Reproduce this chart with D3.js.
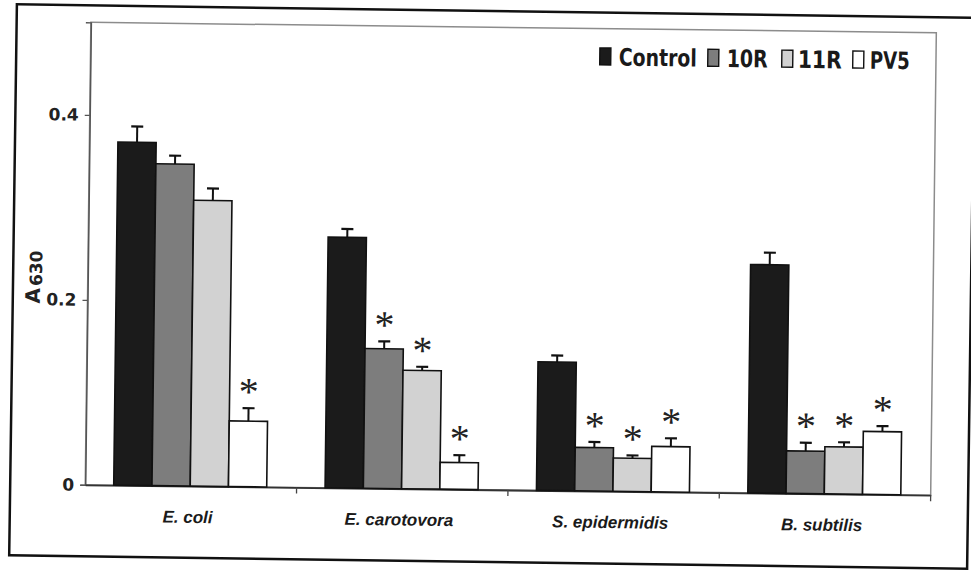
<!DOCTYPE html>
<html><head><meta charset="utf-8">
<script src="https://cdn.jsdelivr.net/npm/d3@7"></script>
<style>
html,body{margin:0;padding:0;background:#fff;}
svg{display:block;}
</style></head>
<body>
<script>
// ---- data ----
const categories = ["E. coli", "E. carotovora", "S. epidermidis", "B. subtilis"];
const seriesNames = ["Control", "10R", "11R", "PV5"];
const controlValues = [0.371, 0.271, 0.139, 0.247];
const r10Values     = [0.348, 0.151, 0.047, 0.046];
const r11Values     = [0.309, 0.128, 0.036, 0.051];
const pv5Values     = [0.071, 0.029, 0.049, 0.068];
const controlErr = [0.017, 0.009, 0.007, 0.013];
const r10Err     = [0.009, 0.008, 0.006, 0.009];
const r11Err     = [0.013, 0.004, 0.003, 0.005];
const pv5Err     = [0.014, 0.008, 0.009, 0.006];
const controlSig = [false, false, false, false];
const r10Sig     = [false, true, true, true];
const r11Sig     = [false, true, true, true];
const pv5Sig     = [true, true, true, true];
const yTicks = [0, 0.2, 0.4];
const yTickLabels = ["0", "0.2", "0.4"];
const yLabelMain = "A", yLabelSub = "630";

const values = [controlValues, r10Values, r11Values, pv5Values];
const errs = [controlErr, r10Err, r11Err, pv5Err];
const sigs = [controlSig, r10Sig, r11Sig, pv5Sig];
const colors = ["#1b1b1b", "#7d7d7d", "#d2d2d2", "#ffffff"];

// ---- layout ----
const W = 971, H = 571;
const L = 87.7, R = 933.2, T = 27.2, B = 489.7;

const svg = d3.select("body").append("svg").attr("width", W).attr("height", H);
svg.append("rect").attr("width", W).attr("height", H).attr("fill", "#fff");

// outer border (scan is slightly rotated)
svg.append("rect").attr("x", 13).attr("y", 11).attr("width", 958).attr("height", 551)
  .attr("transform", "rotate(0.8,492,286.5)")
  .attr("fill", "none").attr("stroke", "#111").attr("stroke-width", 2.5);

const g = svg.append("g").attr("transform", "rotate(0.7,485,285)");

const y = d3.scaleLinear().domain([0, 0.5]).range([B, T]);
const x0 = d3.scaleBand().domain(categories).range([L, R]).padding(0);
const x1 = d3.scaleBand().domain(seriesNames).range([28.5, 181.5]).padding(0);

// plot frame
g.append("rect").attr("x", L).attr("y", T).attr("width", R - L).attr("height", B - T)
  .attr("fill", "none").attr("stroke", "#8c8c8c").attr("stroke-width", 1.5);

// y axis
const yAxis = g.append("g").attr("transform", `translate(${L},0)`)
  .call(d3.axisLeft(y).tickValues(yTicks).tickFormat((d, i) => yTickLabels[i]).tickSize(5).tickPadding(6));
yAxis.select(".domain").attr("stroke", "#555").attr("stroke-width", 1.5);
yAxis.selectAll(".tick line").attr("stroke", "#555").attr("stroke-width", 1.3);
yAxis.selectAll(".tick text").attr("font-family", "DejaVu Sans, sans-serif")
  .attr("font-weight", "bold").attr("font-size", 17).attr("fill", "#222");

// x axis
const xAxis = g.append("g").attr("transform", `translate(0,${B})`)
  .call(d3.axisBottom(x0).tickSize(0).tickPadding(0));
xAxis.select(".domain").attr("stroke", "#333").attr("stroke-width", 1.8);
xAxis.selectAll(".tick text").remove();
xAxis.selectAll(".bnd").data(categories).join("line").attr("class", "bnd")
  .attr("x1", d => x0(d) + x0.bandwidth()).attr("x2", d => x0(d) + x0.bandwidth())
  .attr("y1", 0).attr("y2", 6).attr("stroke", "#444").attr("stroke-width", 1.3);
g.selectAll(".xlab").data(categories).join("text").attr("class", "xlab")
  .attr("x", d => x0(d) + x0.bandwidth() / 2 - 3).attr("y", 526.5)
  .attr("text-anchor", "middle").attr("font-family", "Liberation Sans, Arial, sans-serif")
  .attr("font-weight", "bold").attr("font-style", "italic").attr("font-size", 17)
  .attr("fill", "#1a1a1a").text(d => d);

// bars
const flat = [];
seriesNames.forEach((s, si) => categories.forEach((c, ci) => {
  flat.push({s, si, c, v: values[si][ci], e: errs[si][ci], sig: sigs[si][ci]});
}));
const bx = d => x0(d.c) + x1(d.s);
const bw = x1.bandwidth();

g.selectAll(".err").data(flat).join("line").attr("class", "err")
  .attr("x1", d => bx(d) + bw / 2).attr("x2", d => bx(d) + bw / 2)
  .attr("y1", d => y(d.v)).attr("y2", d => y(d.v + d.e))
  .attr("stroke", "#111").attr("stroke-width", 2);
g.selectAll(".cap").data(flat).join("line").attr("class", "cap")
  .attr("x1", d => bx(d) + bw / 2 - 6).attr("x2", d => bx(d) + bw / 2 + 6)
  .attr("y1", d => y(d.v + d.e)).attr("y2", d => y(d.v + d.e))
  .attr("stroke", "#111").attr("stroke-width", 2.2);

g.selectAll(".bar").data(flat).join("rect").attr("class", "bar")
  .attr("x", d => bx(d)).attr("width", bw)
  .attr("y", d => y(d.v)).attr("height", d => y(0) - y(d.v))
  .attr("fill", d => colors[d.si]).attr("stroke", "#111").attr("stroke-width", 1.6);

// significance asterisks
g.selectAll(".star").data(flat.filter(d => d.sig)).join("text").attr("class", "star")
  .attr("x", d => bx(d) + bw / 2).attr("y", d => y(d.v + d.e) - 22 + 19)
  .attr("text-anchor", "middle").attr("font-family", "Liberation Serif, Times New Roman, serif")
  .attr("font-size", 40).attr("fill", "#222").text("*");

// legend
const legX = [597, 705, 779, 850];
const legTextX = [616, 724, 795, 867];
const legTextW = [78, 41, 44, 40];
const leg = g.append("g");
seriesNames.forEach((s, i) => {
  leg.append("rect").attr("x", legX[i]).attr("y", 46.5).attr("width", 11).attr("height", 17)
    .attr("fill", colors[i]).attr("stroke", "#111").attr("stroke-width", 1.4);
  leg.append("text").attr("x", legTextX[i]).attr("y", 64)
    .attr("font-family", "Liberation Sans Narrow, DejaVu Sans Condensed, Liberation Sans, sans-serif")
    .attr("font-weight", "bold").attr("font-size", 24).attr("fill", "#1a1a1a")
    .attr("textLength", legTextW[i]).attr("lengthAdjust", "spacingAndGlyphs").text(s);
});

// y label
const yl = g.append("text").attr("transform", "translate(40,309) rotate(-90)")
  .attr("font-family", "DejaVu Sans, sans-serif").attr("font-weight", "bold").attr("fill", "#222");
yl.append("tspan").attr("font-size", 20).text(yLabelMain);
yl.append("tspan").attr("font-size", 17).attr("dy", 2).attr("dx", 2).text(yLabelSub);
</script>
</body></html>
